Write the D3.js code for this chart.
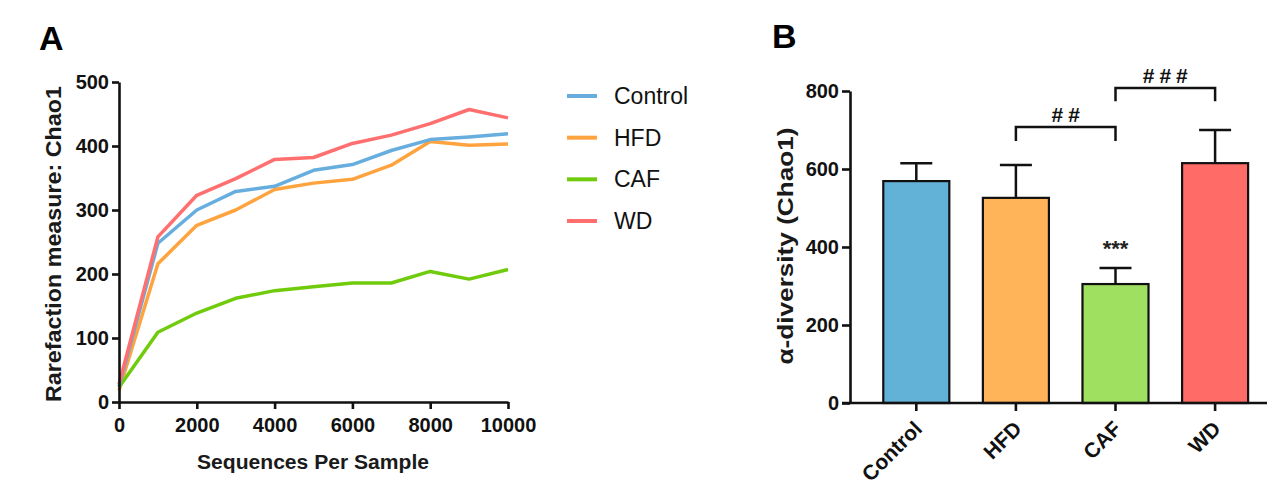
<!DOCTYPE html>
<html><head><meta charset="utf-8">
<script src="https://cdn.jsdelivr.net/npm/d3@7"></script>
<style>
body{margin:0;background:#fff;}
svg{font-family:"Liberation Sans",Arial,sans-serif;}
</style></head>
<body><svg id="c" width="1267" height="488"></svg>
<script>
// ---- Panel A data: rarefaction curves ----
const seqDepth = [0,1000,2000,3000,4000,5000,6000,7000,8000,9000,10000];
const groups = ["Control","HFD","CAF","WD"];
const chaoControl = [24,248,300,329,337,362,371,393,410,414,419];
const chaoHFD     = [18,216,276,300,332,342,348,370,407,401,403];
const chaoCAF     = [23,109,139,162,174,180,186,186,204,192,207];
const chaoWD      = [28,258,323,349,379,382,404,417,435,457,444];
const xTicksA = [0,2000,4000,6000,8000,10000];
const yTicksA = [0,100,200,300,400,500];
const lineColors = ["#67AEDE","#FFA33F","#70CB0C","#FF6F6F"];

// ---- Panel B data: alpha diversity bars ----
const barMeans = [569,526,305,615];
const barUpper = [615,610,346,700];
const barColors = ["#62B1D6","#FFB459","#A0E060","#FF6B67"];
const yTicksB = [0,200,400,600,800];
const stars = [{group:"CAF", text:"***"}];
const brackets = [
  {from:"HFD", to:"CAF", top:708, leg:672, label:"##"},
  {from:"CAF", to:"WD",  top:808, leg:774, label:"###"}
];

const svg = d3.select("#c");
const FONT = '"Liberation Sans",Arial,sans-serif';

// ================= Panel A =================
const xA = d3.scaleLinear().domain([0,10000]).range([119,508]);
const yA = d3.scaleLinear().domain([0,500]).range([402,82]);

svg.append("text").attr("x",39).attr("y",50).text("A")
  .attr("font-size",34).attr("font-weight","bold");

const series = [chaoControl, chaoHFD, chaoCAF, chaoWD];
const line = d3.line().x((d,i)=>xA(seqDepth[i])).y(d=>yA(d));
const order = [1,2,0,3];
order.forEach(k=>{
  svg.append("path").datum(series[k]).attr("d",line)
    .attr("fill","none").attr("stroke",lineColors[k]).attr("stroke-width",3.5)
    .attr("stroke-linejoin","round");
});

const axA_x = svg.append("g").attr("transform","translate(0,402)")
  .call(d3.axisBottom(xA).tickValues(xTicksA).tickFormat(d3.format("d")).tickSize(7).tickPadding(9).tickSizeOuter(0));
const axA_y = svg.append("g").attr("transform","translate(119,0)")
  .call(d3.axisLeft(yA).tickValues(yTicksA).tickSize(7).tickPadding(3).tickSizeOuter(0));
[axA_x,axA_y].forEach(g=>{
  g.select(".domain").attr("stroke","#111").attr("stroke-width",2.6);
  g.selectAll(".tick line").attr("stroke","#111").attr("stroke-width",2.6);
  g.selectAll(".tick text").attr("font-family",FONT).attr("font-size",20)
    .attr("font-weight","bold").attr("fill","#111");
});

svg.append("text").attr("x",313).attr("y",469).attr("text-anchor","middle")
  .attr("font-size",20).attr("font-weight","bold").attr("fill","#1a1a1a")
  .attr("textLength",232).attr("lengthAdjust","spacingAndGlyphs")
  .text("Sequences Per Sample");
svg.append("text").attr("transform","translate(61,244) rotate(-90)")
  .attr("text-anchor","middle").attr("font-size",22).attr("font-weight","bold").attr("fill","#1a1a1a")
  .attr("textLength",316).attr("lengthAdjust","spacingAndGlyphs")
  .text("Rarefaction measure: Chao1");

// legend
const legY = d3.scalePoint().domain(groups).range([96,221]);
groups.forEach((g,i)=>{
  svg.append("line").attr("x1",567).attr("x2",597).attr("y1",legY(g)).attr("y2",legY(g))
    .attr("stroke",lineColors[i]).attr("stroke-width",4);
  svg.append("text").attr("x",614).attr("y",legY(g)+8).text(g)
    .attr("font-size",23).attr("fill","#111");
});

// ================= Panel B =================
const xB = d3.scaleBand().domain(groups).range([866.5,1264.9]).paddingInner(0.337).paddingOuter(0.1685);
const yB = d3.scaleLinear().domain([0,800]).range([403,91]);
const cx = g => xB(g)+xB.bandwidth()/2;

svg.append("text").attr("x",772).attr("y",48).text("B")
  .attr("font-size",34).attr("font-weight","bold");

svg.append("g").selectAll("rect").data(groups).join("rect")
  .attr("x",g=>xB(g)).attr("width",xB.bandwidth())
  .attr("y",(g,i)=>yB(barMeans[i])).attr("height",(g,i)=>yB(0)-yB(barMeans[i]))
  .attr("fill",(g,i)=>barColors[i]).attr("stroke","#111").attr("stroke-width",2.2);

groups.forEach((g,i)=>{
  svg.append("line").attr("x1",cx(g)).attr("x2",cx(g)).attr("y1",yB(barMeans[i])).attr("y2",yB(barUpper[i]))
    .attr("stroke","#111").attr("stroke-width",2.5);
  svg.append("line").attr("x1",cx(g)-16).attr("x2",cx(g)+16).attr("y1",yB(barUpper[i])).attr("y2",yB(barUpper[i]))
    .attr("stroke","#111").attr("stroke-width",2.5);
});

const axB_y = svg.append("g").attr("transform","translate(850,0)")
  .call(d3.axisLeft(yB).tickValues(yTicksB).tickSize(8).tickPadding(3).tickSizeOuter(0));
const axB_x = svg.append("g").attr("transform","translate(0,403)")
  .call(d3.axisBottom(xB).tickSize(8).tickSizeOuter(0).tickFormat(""));
[axB_x,axB_y].forEach(g=>{
  g.select(".domain").attr("stroke","#111").attr("stroke-width",2.6);
  g.selectAll(".tick line").attr("stroke","#111").attr("stroke-width",2.6);
  g.selectAll(".tick text").attr("font-family",FONT).attr("font-size",20)
    .attr("font-weight","bold").attr("fill","#111");
});
axB_x.select(".domain").attr("d","M842,0H1267");

svg.append("g").selectAll("text").data(groups).join("text")
  .attr("transform",g=>`translate(${cx(g)+7},${430}) rotate(-45)`)
  .attr("text-anchor","end").attr("font-size",21).attr("font-weight","bold").attr("fill","#111")
  .text(g=>g);

svg.append("text").attr("transform","translate(793,246) rotate(-90)")
  .attr("text-anchor","middle").attr("font-size",22).attr("font-weight","bold").attr("fill","#1a1a1a")
  .attr("textLength",237).attr("lengthAdjust","spacingAndGlyphs")
  .text("α-diversity (Chao1)");

stars.forEach(s=>{
  const i = groups.indexOf(s.group);
  svg.append("text").attr("x",cx(s.group)).attr("y",yB(barUpper[i])-12)
    .attr("text-anchor","middle").attr("font-size",22).attr("font-weight","bold").attr("fill","#222")
    .text(s.text);
});
brackets.forEach(b=>{
  const x1=cx(b.from), x2=cx(b.to);
  svg.append("path").attr("d",`M${x1},${yB(b.leg)}V${yB(b.top)}H${x2}V${yB(b.leg)}`)
    .attr("fill","none").attr("stroke","#111").attr("stroke-width",2.5);
  svg.append("text").attr("x",(x1+x2)/2+2.5).attr("y",yB(b.top)-5).attr("text-anchor","middle")
    .attr("font-size",21).attr("font-weight","bold").attr("letter-spacing",5).attr("fill","#111")
    .text(b.label);
});
</script></body></html>
